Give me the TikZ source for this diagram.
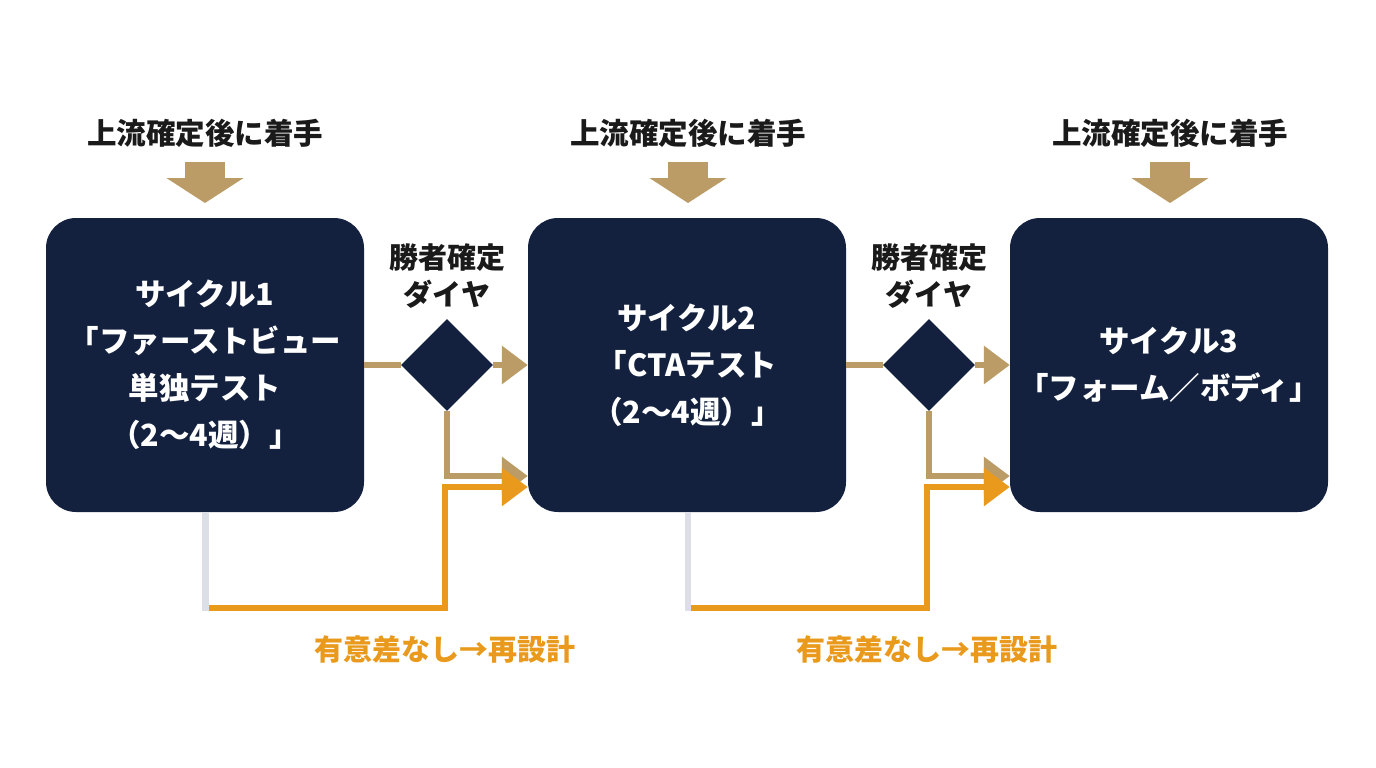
\documentclass[tikz,border=0pt]{standalone}
\usepackage{fontspec}
\setmainfont{Noto Sans CJK JP}
\usetikzlibrary{arrows.meta,shapes.geometric,calc}
\definecolor{navy}{HTML}{13213F}
\definecolor{tanc}{HTML}{BC9C66}
\definecolor{orangec}{HTML}{E99A1D}
\definecolor{grayc}{HTML}{DCDFE6}
\definecolor{inkc}{HTML}{1A1A1A}
\tikzset{
  cyclebox/.style={fill=navy, rounded corners=30pt, minimum width=318pt, minimum height=294pt,
    inner sep=0pt, text=white, align=center, font=\bfseries\fontsize{30.5}{47}\selectfont},
  gate/.style={diamond, fill=navy, minimum width=92pt, minimum height=92pt, inner sep=0pt, aspect=1},
  toplabel/.style={text=inkc, font=\bfseries\fontsize{29.5}{34}\selectfont, inner sep=0pt},
  gatelabel/.style={text=inkc, align=center, font=\bfseries\fontsize{29}{37}\selectfont, inner sep=0pt},
  redolabel/.style={text=orangec, font=\bfseries\fontsize{29}{34}\selectfont, inner sep=0pt},
  bigdown/.style={draw=tanc, line width=40pt, -{Triangle[length=25pt,width=76pt]}},
  tanline/.style={draw=tanc, line width=6.5pt},
  orangeline/.style={draw=orangec, line width=6.5pt},
  grayline/.style={draw=grayc, line width=6.5pt},
  tip/.style={-{Triangle[length=26pt,width=37pt]}}
}
\begin{document}
\begin{tikzpicture}[x=1pt,y=-1pt]
\useasboundingbox[fill=white] (0,0) rectangle (1376,768);

% boxes
\node[cyclebox] (b1) at (205,365) {サイクル1\\「ファーストビュー\\単独テスト\\（2〜4週）」};
\node[cyclebox] (b2) at (687,365) {サイクル2\\「CTAテスト\\（2〜4週）」};
\node[cyclebox] (b3) at (1169,365) {サイクル3\\「フォーム／ボディ」};

% diamonds
\node[gate] (d1) at (447,365) {};
\node[gate] (d2) at (929,365) {};
\node[gatelabel] (l1) at (447,276) {勝者確定\\ダイヤ};
\node[gatelabel] (l2) at (929,276) {勝者確定\\ダイヤ};

% top labels and arrows
\foreach \i/\x in {1/205,2/688,3/1170}{
  \node[toplabel] (t\i) at (\x,133) {上流確定後に着手};
  \coordinate (ts\i) at (\x,162);
  \coordinate (te\i) at (\x,203);
  \draw[bigdown] (ts\i) -- (te\i);
}

% redo labels
\node[redolabel] (r1) at (445,649) {有意差なし→再設計};
\node[redolabel] (r2) at (927,649) {有意差なし→再設計};

% tan connectors
\draw[tanline] (b1.east) -- (d1.west);
\draw[tanline,tip] (d1.east) -- (b2.west);
\draw[tanline,tip] (d1.south) |- ([yshift=-111pt]b2.west);
\draw[tanline] (b2.east) -- (d2.west);
\draw[tanline,tip] (d2.east) -- (b3.west);
\draw[tanline,tip] (d2.south) |- ([yshift=-111pt]b3.west);

% orange redo paths
\coordinate (g1) at (205.5,608);
\coordinate (c1) at (445,608);
\draw[orangeline,tip] (g1) -- (c1) |- ([yshift=-122pt]b2.west);
\draw[grayline] (b1.south -| g1) -- (205.5,611);
\coordinate (g2) at (688,608);
\coordinate (c2) at (927,608);
\draw[orangeline,tip] (g2) -- (c2) |- ([yshift=-122pt]b3.west);
\draw[grayline] (b2.south -| g2) -- (688,611);
\end{tikzpicture}
\end{document}
